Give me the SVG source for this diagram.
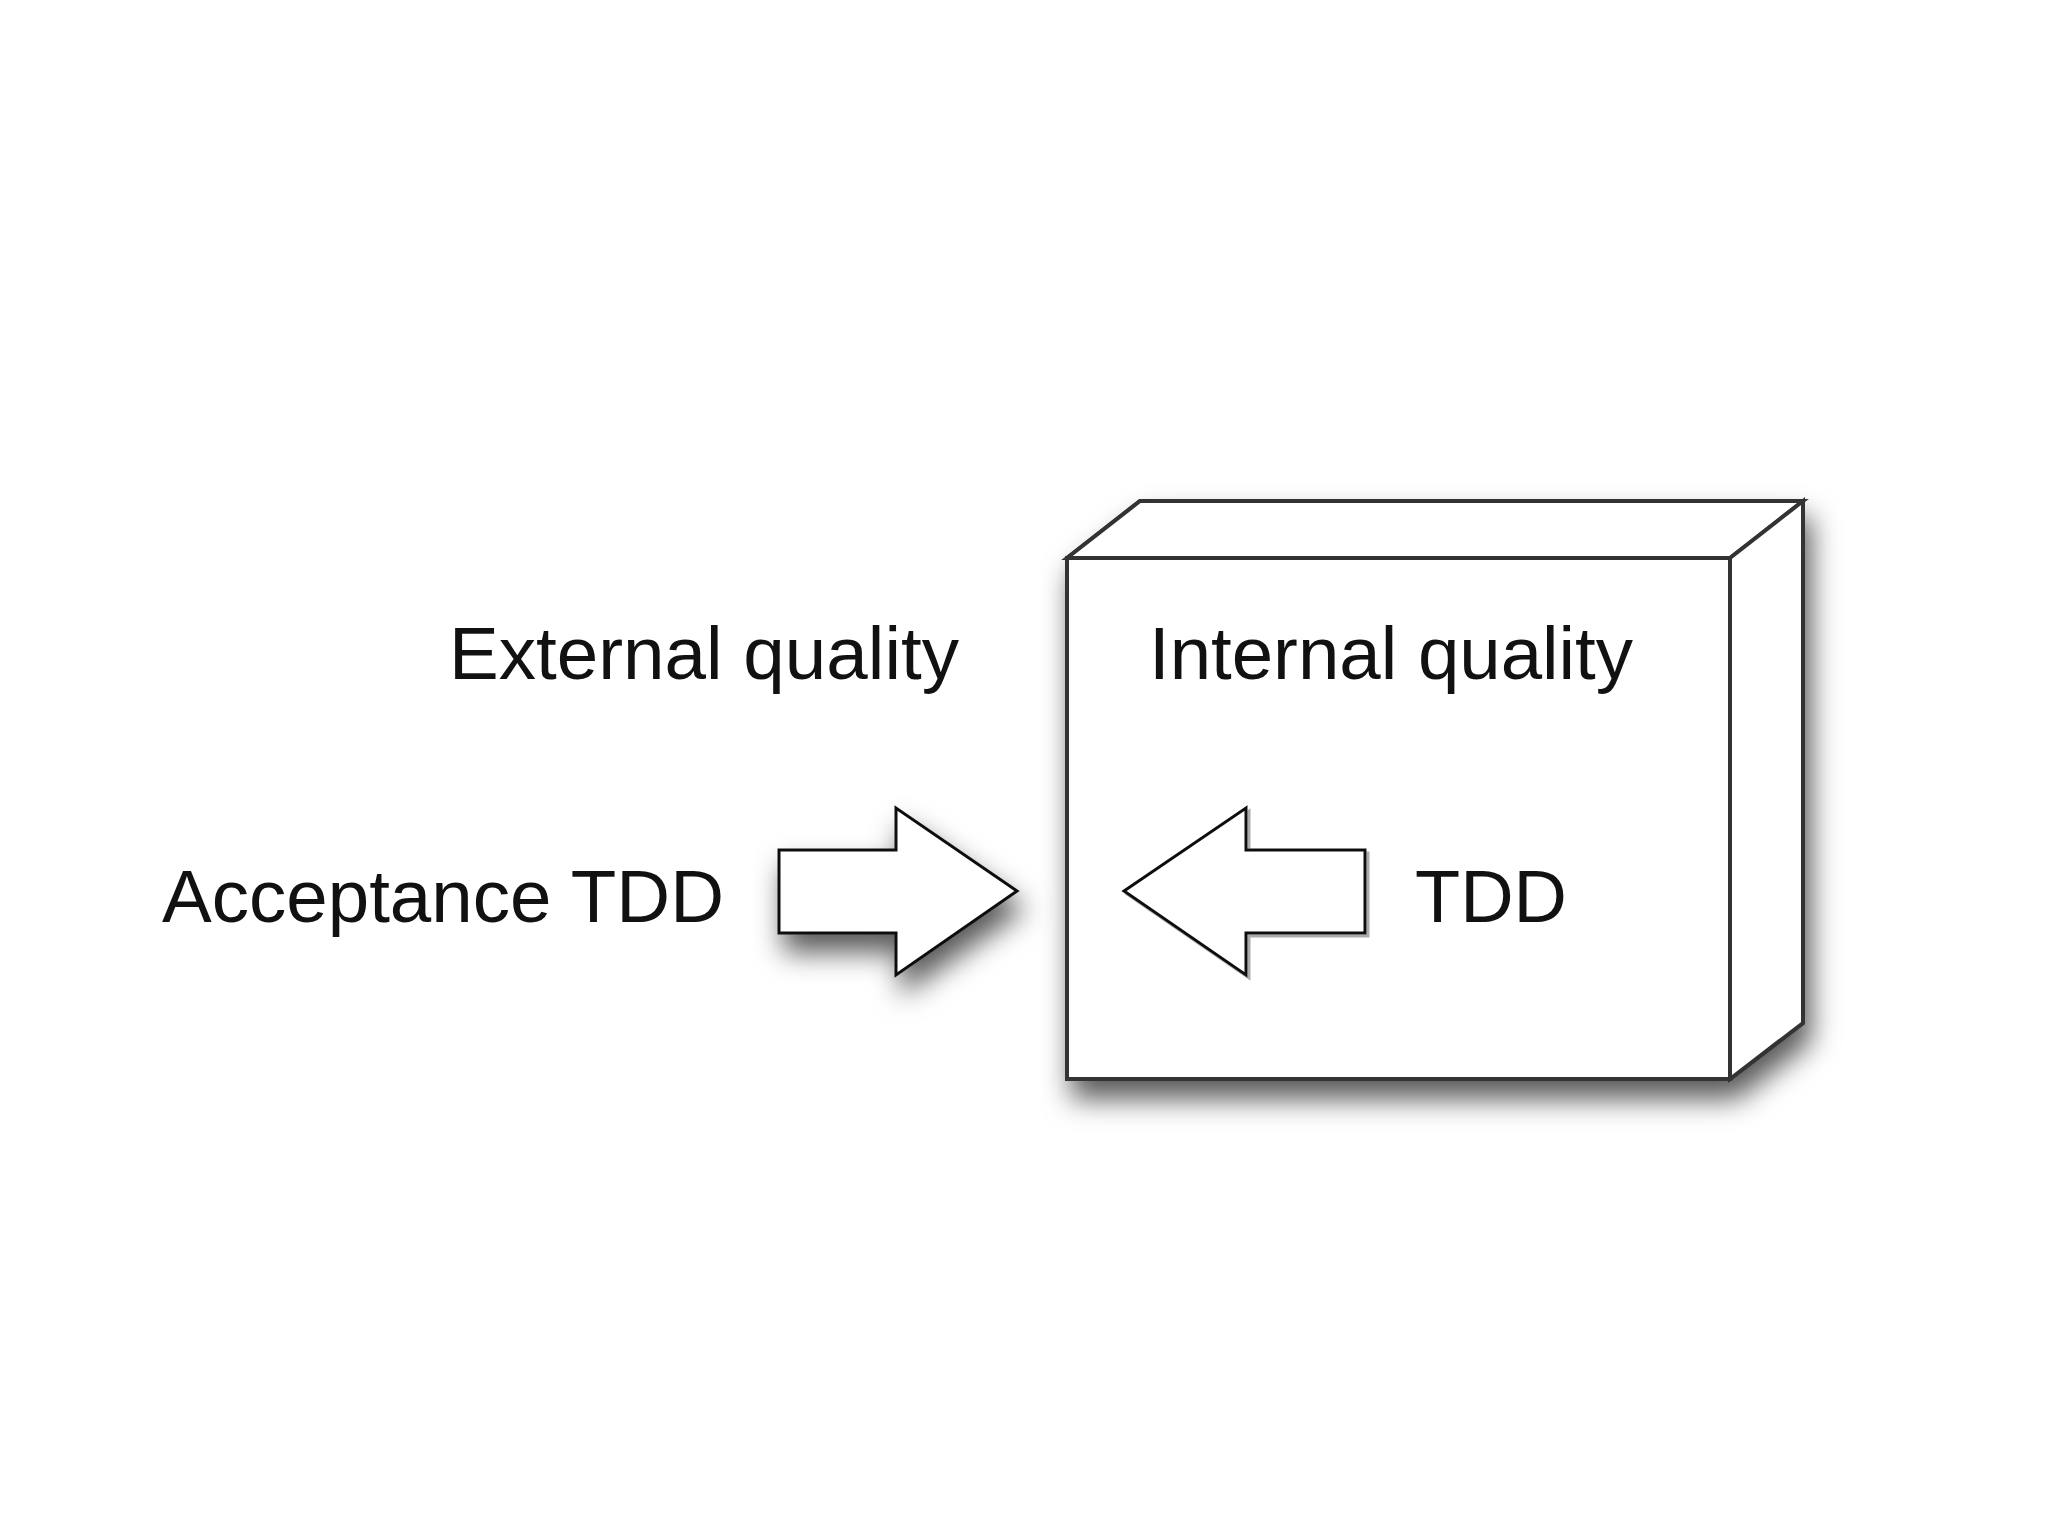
<svg xmlns="http://www.w3.org/2000/svg" width="2048" height="1535" viewBox="0 0 2048 1535">
  <style>
    .lbl { font-family: "Liberation Sans", Arial, sans-serif; font-size: 74px; fill: #111; }
    .face { fill: #fff; stroke: #333; stroke-width: 4; stroke-linejoin: miter; }
    .blk { fill: #fff; stroke: #111; stroke-width: 3; stroke-linejoin: miter; }
  </style>
  <defs>
    <filter id="soft" x="-20%" y="-20%" width="150%" height="170%">
      <feDropShadow dx="6" dy="18" stdDeviation="14" flood-color="#000" flood-opacity="0.65"/>
    </filter>
    <filter id="hard" x="-10%" y="-10%" width="130%" height="130%">
      <feDropShadow dx="3" dy="3" stdDeviation="0.6" flood-color="#888" flood-opacity="0.7"/>
    </filter>
  </defs>
  <rect width="2048" height="1535" fill="#fff"/>

  <g id="box">
    <g filter="url(#soft)">
      <polygon class="face" points="1067,558 1140,501 1803,501 1803,1023 1730,1079 1067,1079"/>
    </g>
    <polygon class="face" points="1067,558 1140,501 1803,501 1730,558"/>
    <polygon class="face" points="1730,558 1803,501 1803,1023 1730,1079"/>
    <rect class="face" x="1067" y="558" width="663" height="521"/>
  </g>

  <g id="connectors">
    <g id="arrow-acceptance" filter="url(#soft)">
      <polygon class="blk" points="779,850 896,850 896,808 1017,891 896,975 896,933 779,933"/>
    </g>
    <g id="arrow-tdd" filter="url(#hard)">
      <polygon class="blk" points="1124,891 1246,808 1246,850 1365,850 1365,933 1246,933 1246,975"/>
    </g>
  </g>

  <g id="label-external">
    <text class="lbl" x="449" y="679" textLength="510" lengthAdjust="spacingAndGlyphs">External quality</text>
  </g>
  <g id="label-internal">
    <text class="lbl" x="1149" y="679" textLength="484" lengthAdjust="spacingAndGlyphs">Internal quality</text>
  </g>
  <g id="label-acceptance">
    <text class="lbl" x="162" y="922" textLength="562" lengthAdjust="spacingAndGlyphs">Acceptance TDD</text>
  </g>
  <g id="label-tdd">
    <text class="lbl" x="1415" y="922" textLength="152" lengthAdjust="spacingAndGlyphs">TDD</text>
  </g>
</svg>
